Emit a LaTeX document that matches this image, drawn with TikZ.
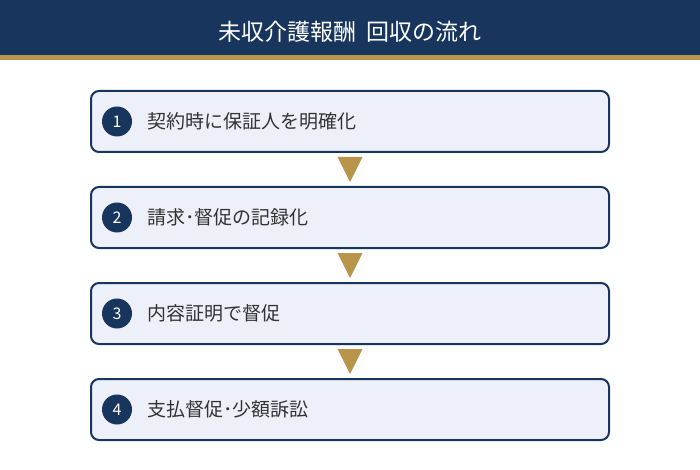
\documentclass[tikz,border=0pt]{standalone}
\usepackage{fontspec}
\setmainfont{Noto Sans CJK JP}
\usetikzlibrary{positioning, calc}

\definecolor{navy}{HTML}{18365D}
\definecolor{gold}{HTML}{B8954A}
\definecolor{boxfill}{HTML}{EDF0F8}
\definecolor{txtgray}{HTML}{333333}

\begin{document}
\begin{tikzpicture}[%
    x=1pt, y=-1pt,
    node distance=96pt,
    on grid,
    stepbox/.style={draw=navy, line width=2pt, fill=boxfill, rounded corners=8pt,
      minimum width=518pt, minimum height=61pt},
    badge/.style={circle, fill=navy, minimum size=30pt, inner sep=0pt,
      text=white, font=\fontsize{16}{16}\selectfont},
    steptext/.style={anchor=west, text=txtgray, inner sep=0pt,
      font=\fontsize{19}{19}\selectfont},
    pointer/.style={fill=gold}
  ]
  \useasboundingbox (0,0) rectangle (700,470);

  % header
  \fill[navy] (0,0) rectangle (700,55);
  \fill[gold] (0,55) rectangle (700,60);
  \node[text=white, font=\fontsize{23}{23}\selectfont] (title) at (350,31.5)
    {未収介護報酬\hspace*{0.45em}回収の流れ};

  % steps
  \node[stepbox] (S1) at (350,121.5) {};
  \node[stepbox] (S2) [below=of S1] {};
  \node[stepbox] (S3) [below=of S2] {};
  \node[stepbox] (S4) [below=of S3] {};

  \node[badge] (B1) at ($(S1.west)+(27,0)$) {1};
  \node[badge] (B2) at ($(S2.west)+(27,0)$) {2};
  \node[badge] (B3) at ($(S3.west)+(27,0)$) {3};
  \node[badge] (B4) at ($(S4.west)+(27,0)$) {4};

  \node[steptext] (T1) at ($(S1.west)+(57,0)$) {契約時に保証人を明確化};
  \node[steptext] (T2) at ($(S2.west)+(57,0)$) {請求･督促の記録化};
  \node[steptext] (T3) at ($(S3.west)+(57,0)$) {内容証明で督促};
  \node[steptext] (T4) at ($(S4.west)+(57,0)$) {支払督促･少額訴訟};

  % arrows
  \fill[pointer] ($(S1.south)+(-12.5,4)$) -- ($(S1.south)+(12.5,4)$) -- ($(S2.north)+(0,-4)$) -- cycle;
  \fill[pointer] ($(S2.south)+(-12.5,4)$) -- ($(S2.south)+(12.5,4)$) -- ($(S3.north)+(0,-4)$) -- cycle;
  \fill[pointer] ($(S3.south)+(-12.5,4)$) -- ($(S3.south)+(12.5,4)$) -- ($(S4.north)+(0,-4)$) -- cycle;
\end{tikzpicture}
\end{document}
